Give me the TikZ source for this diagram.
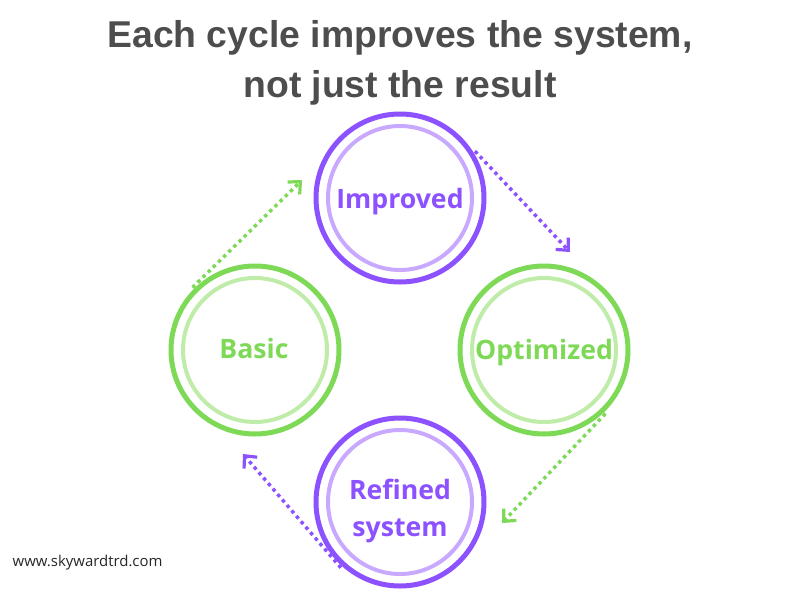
\documentclass[tikz,border=0pt]{standalone}
\usepackage{fontspec}
\setmainfont{Open Sans}
\newfontfamily\titlefont{Liberation Sans}
\usetikzlibrary{arrows.meta}
\definecolor{pdark}{HTML}{8C52FF}
\definecolor{plight}{HTML}{C9A9FF}
\definecolor{gdark}{HTML}{7ED957}
\definecolor{glight}{HTML}{BFECA9}
\definecolor{titlegray}{HTML}{4D4D4D}
\tikzset{
  outerring/.style={circle, draw, line width=3.75pt, minimum size=126pt, inner sep=0pt, outer sep=3.3pt},
  ringtext/.style={font=\bfseries\fontsize{20pt}{27.75pt}\selectfont, align=center, inner sep=0pt},
  innerring/.style={line width=3pt},
  cyclearrow/.style={line width=2.6pt, dash pattern=on 2.6pt off 2.8pt,
    -{Straight Barb[length=7pt,width=13pt,line width=2.4pt]}},
}
\begin{document}
\begin{tikzpicture}[x=0.75pt,y=-0.75pt]
\useasboundingbox (0,0) rectangle (800,600);
\node[font=\titlefont\bfseries\fontsize{28pt}{38pt}\selectfont, text=titlegray, align=center] (title) at (400,63) {Each cycle improves the system,\\not just the result};

\node[outerring, draw=pdark] (imp) at (400,198) {};
\node[outerring, draw=gdark] (bas) at (255,350) {};
\node[outerring, draw=gdark] (opt) at (544,350) {};
\node[outerring, draw=pdark] (ref) at (400,502) {};

\draw[innerring, plight] (imp.center) circle[radius=72];
\draw[innerring, glight] (bas.center) circle[radius=72];
\draw[innerring, glight] (opt.center) circle[radius=72];
\draw[innerring, plight] (ref.center) circle[radius=72];

\node[ringtext, text=pdark, anchor=base] (impt) at (400,208) {Improved};
\node[ringtext, text=gdark, anchor=base] (bast) at (254,358) {Basic};
\node[ringtext, text=gdark, anchor=base] (optt) at (544,359) {Optimized};
\node[ringtext, text=pdark] (reft) at (400,510.5) {Refined\\system};

\coordinate (e1) at (302,180);
\coordinate (e2) at (570,252);
\coordinate (e3) at (502,523);
\coordinate (e4) at (243,454);

\draw[cyclearrow, gdark] (bas.135) -- (e1);
\draw[cyclearrow, pdark] (imp.32) -- (e2);
\draw[cyclearrow, gdark] (opt.-46) -- (e3);
\draw[cyclearrow, pdark] (ref.-132) -- (e4);

\node[anchor=west, font=\fontsize{11.2pt}{12pt}\selectfont, text=black!85] (web) at (8,563) {www.skywardtrd.com};
\end{tikzpicture}
\end{document}
